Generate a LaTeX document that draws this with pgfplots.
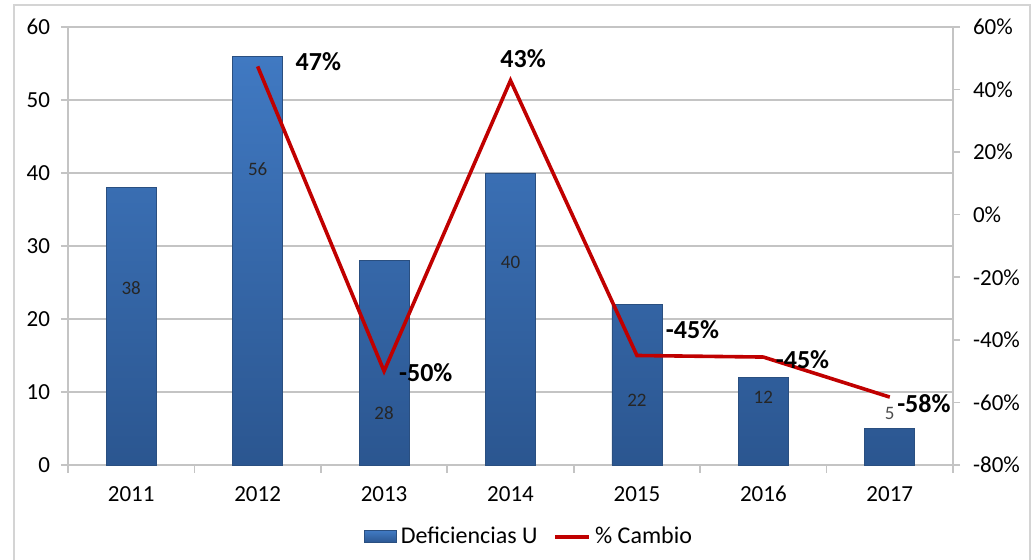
\documentclass[border=0pt]{standalone}
\usepackage{pgfplots}
\pgfplotsset{compat=1.18}
\usepackage{fontspec}
\setmainfont{Carlito}
\definecolor{barTop}{HTML}{4079C2}
\definecolor{barBot}{HTML}{2B5690}
\definecolor{barEdge}{HTML}{2A4F80}
\definecolor{lineRed}{HTML}{C00000}
\definecolor{gridGray}{HTML}{C4C4C4}
\definecolor{frameGray}{HTML}{D4D4D4}
\begin{document}
\begin{tikzpicture}
\path[use as bounding box] (-34pt,-47.5pt) rectangle (483pt,232.5pt);
\draw[frameGray, line width=0.8pt] (-27pt,-50pt) -- (-27pt,230pt) -- (481pt,230pt) -- (481pt,-50pt);
\pgfplotsset{
  base/.style={
    width=442.5pt, height=219pt, scale only axis,
    at={(0,0)}, anchor=south west,
    xmin=-0.5, xmax=6.5,
    clip=false,
    tick align=outside,
    /pgf/number format/assume math mode=true,
    tick label style={font=\fontsize{11.5}{13}\selectfont, text=black},
    axis line style={gridGray, line width=0.8pt},
  }
}
\begin{axis}[base,
  ymin=0, ymax=60, ytick={0,10,...,60},
  axis y line*=left, axis x line*=bottom,
  xtick={0,1,2,3,4,5,6},
  xticklabels={2011,2012,2013,2014,2015,2016,2017},
  major x tick style={draw=none},
  minor xtick={-0.5,0.5,1.5,2.5,3.5,4.5,5.5,6.5},
  minor x tick style={gridGray, line width=0.8pt},
  minor tick length=4pt,
  major tick length=3.5pt,
  y tick style={gridGray, line width=0.8pt},
  ymajorgrids, grid style={gridGray, line width=0.8pt},
  xticklabel style={yshift=-3pt, text height=8pt, text depth=0pt},
  yticklabel style={xshift=-2pt},
]
\addplot[ybar, bar width=25pt, draw=barEdge, line width=0.4pt,
  top color=barTop, bottom color=barBot]
  coordinates {(0,38) (1,56) (2,28) (3,40) (4,22) (5,12) (6,5)};
\begin{scope}[every node/.style={font=\fontsize{9.5}{11}\selectfont, text=black!85}]
\node at (axis cs:0,24.2) {38};
\node at (axis cs:1,40.5) {56};
\node at (axis cs:2,7.1) {28};
\node at (axis cs:3,27.7) {40};
\node at (axis cs:4,8.9) {22};
\node at (axis cs:5,9.2) {12};
\node[text=black!70] at (axis cs:6,7.1) {5};
\end{scope}
\end{axis}
\begin{axis}[base,
  ymin=-80, ymax=60, ytick={-80,-60,...,60},
  axis y line*=right, axis x line=none,
  yticklabel={\pgfmathprintnumber{\tick}\%},
  y tick style={gridGray, line width=0.8pt},
  major tick length=3.5pt,
  yticklabel style={xshift=3pt},
  legend style={draw=none, fill=none, at={(0.522,-0.164)}, anchor=center,
    legend columns=2, font=\fontsize{12}{14}\selectfont,
    /tikz/every even column/.append style={column sep=6pt}},
]
\addlegendimage{legend image code/.code={
  \draw[barEdge, line width=0.4pt, top color=barTop, bottom color=barBot] (0pt,-3pt) rectangle (16pt,3pt);}}
\addlegendentry{Deficiencias U}
\addplot[lineRed, line width=1.8pt,
  legend image code/.code={\draw[lineRed, line width=1.8pt] (0pt,0pt) -- (17pt,0pt);}]
  coordinates {(1,47.4) (2,-50) (3,42.9) (4,-45) (5,-45.5) (6,-58.3)};
\addlegendentry{\% Cambio}
\begin{scope}[every node/.style={font=\bfseries\fontsize{13}{15}\selectfont, text=black}]
\node at (axis cs:1.48,48.8) {47\%};
\node at (axis cs:2.33,-50.6) {-50\%};
\node at (axis cs:3.10,49.8) {43\%};
\node at (axis cs:4.44,-36.8) {-45\%};
\node at (axis cs:5.31,-46.4) {-45\%};
\node at (axis cs:6.27,-60.5) {-58\%};
\end{scope}
\end{axis}
\end{tikzpicture}
\end{document}
